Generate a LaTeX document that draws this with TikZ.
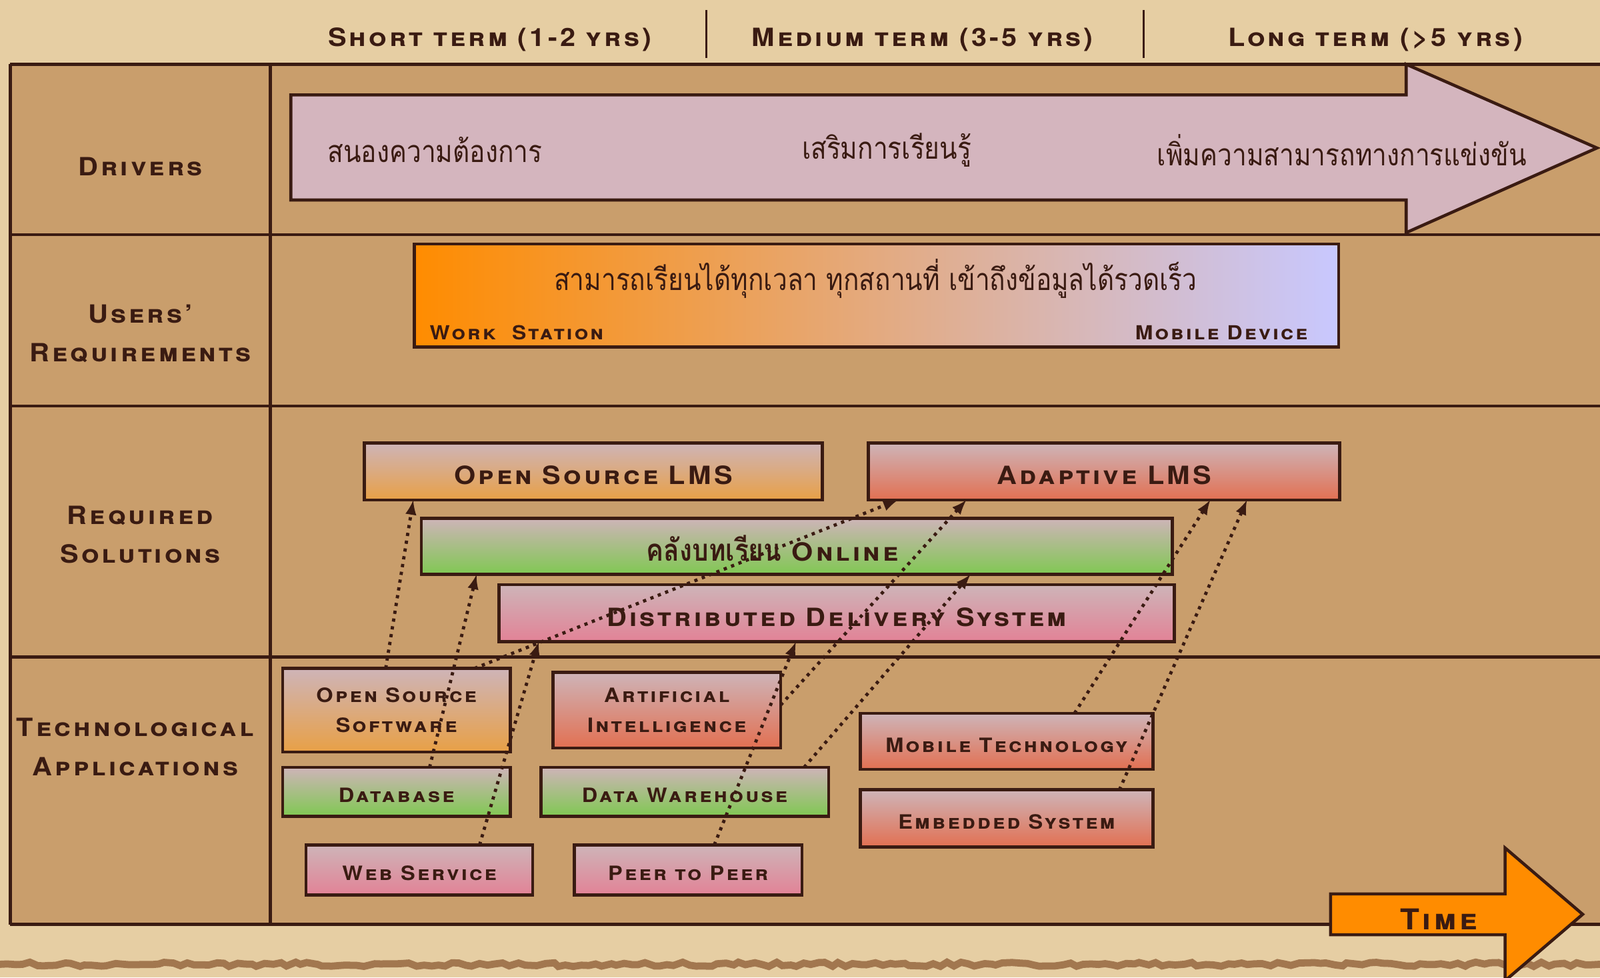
\documentclass[tikz,border=0pt]{standalone}
\usepackage{fontspec}
\newfontfamily\capfont{TeX Gyre Heros}[LetterSpace=11,FakeStretch=1.1]
\newfontfamily\thaifont[Script=Thai,FakeStretch=0.85]{Loma}
\usetikzlibrary{positioning}
\usetikzlibrary{arrows}
\usetikzlibrary{decorations.pathmorphing}

\definecolor{paper}{RGB}{230,206,163}
\definecolor{desk}{RGB}{201,158,108}
\definecolor{ink}{RGB}{58,27,18}
\definecolor{lilac}{RGB}{206,180,184}
\definecolor{drvpink}{RGB}{212,181,190}
\definecolor{boxorange}{RGB}{232,160,70}
\definecolor{boxred}{RGB}{226,112,82}
\definecolor{boxgreen}{RGB}{128,200,82}
\definecolor{boxpink}{RGB}{226,130,150}
\definecolor{timeorange}{RGB}{255,140,0}
\definecolor{peach}{RGB}{230,176,138}
\definecolor{mobblue}{RGB}{200,200,255}
\definecolor{torn}{RGB}{140,90,52}

\begin{document}
\begin{tikzpicture}[>=latex,font=\capfont\bfseries\scshape,text=ink,
	rowline/.style={draw=ink,line width=1.7pt},
	boxline/.style={draw=ink,line width=1.7pt,outer sep=0pt,inner sep=0pt},
	sol/.style={boxline,minimum height=1.12cm,text height=0.51cm,text depth=0cm,font=\capfont\bfseries\scshape\fontsize{14}{18}\selectfont},
	app/.style={boxline,align=center,font=\capfont\bfseries\scshape\fontsize{11}{16.5}\selectfont},
	appone/.style={app,text height=0.42cm,text depth=0cm},
	orangebox/.style={top color=lilac,bottom color=boxorange},
	redbox/.style={top color=lilac,bottom color=boxred},
	greenbox/.style={top color=lilac,bottom color=boxgreen},
	pinkbox/.style={top color=lilac,bottom color=boxpink},
	link/.style={->,ink,line width=1.8pt,dash pattern=on 1.8pt off 2.6pt},
	rowtxt/.style={align=center,font=\capfont\bfseries\scshape\fontsize{14}{21.6}\selectfont},
	thaitxt/.style={font=\thaifont\fontsize{17}{20}\selectfont}]
	\useasboundingbox (0,0) rectangle (31.36,-19.16);
	\fill[paper] (0,0) rectangle (31.36,-19.16);
	\draw[torn,opacity=.75,line width=4pt,decorate,decoration={random steps,segment length=4pt,amplitude=1.2pt}] (0,-18.9) -- (31.36,-18.9);
	\fill[desk] (0.2,-1.26) rectangle (31.36,-18.12);

	% time header
	\node [font=\capfont\bfseries\scshape\fontsize{14}{16}\selectfont] at (9.6,-0.78) (short_txt) {Short term (1-2 yrs)};
	\node [font=\capfont\bfseries\scshape\fontsize{14}{16}\selectfont] at (18.08,-0.78) (medium_txt) {Medium term (3-5 yrs)};
	\node [font=\capfont\bfseries\scshape\fontsize{14}{16}\selectfont] at (26.96,-0.78) (long_txt) {Long term (>5 yrs)};
	\draw[ink,line width=1.2pt] (13.84,-0.2) -- (13.84,-1.14);
	\draw[ink,line width=1.2pt] (22.42,-0.2) -- (22.42,-1.14);

	% table
	\foreach \y in {-1.26,-4.6,-7.96,-12.88,-18.12}
		\draw[rowline] (0.2,\y) -- (31.36,\y);
	\draw[rowline] (0.2,-1.26) -- (0.2,-18.12);
	\draw[rowline] (5.3,-1.26) -- (5.3,-18.12);

	\node [rowtxt] at (2.75,-3.26) (drv_txt) {Drivers};
	\node [rowtxt] at (2.75,-6.54) (usr_txt) {Users’\\Requirements};
	\node [rowtxt] at (2.75,-10.48) (sol_txt) {Required\\Solutions};
	\node [rowtxt] at (2.65,-14.64) (tech_txt) {Technological\\Applications};

	% drivers
	\draw[boxline,fill=drvpink] (5.7,-1.86) -- (27.56,-1.86) -- (27.56,-1.26) -- (31.3,-2.9) -- (27.56,-4.56) -- (27.56,-3.92) -- (5.7,-3.92) -- cycle;
	\node [thaitxt,anchor=west] at (6.3,-2.94) (drv_1) {สนองความต้องการ};
	\node [thaitxt] at (17.38,-2.94) (drv_2) {เสริมการเรียนรู้};
	\node [thaitxt] at (26.3,-2.94) (drv_3) {เพิ่มความสามารถทางการแข่งขัน};

	% users' requirements
	\node [boxline,minimum width=18.12cm,minimum height=2.02cm,left color=timeorange,middle color=peach,right color=mobblue] at (17.18,-5.79) (usr_box) {};
	\node [thaitxt] at (17.16,-5.46) (usr_need) {สามารถเรียนได้ทุกเวลา ทุกสถานที่ เข้าถึงข้อมูลได้รวดเร็ว};
	\node [anchor=west,font=\capfont\bfseries\scshape\fontsize{10.8}{12}\selectfont] at (8.3,-6.52) (usr_ws) {Work\ \ Station};
	\node [anchor=east,font=\capfont\bfseries\scshape\fontsize{10.8}{12}\selectfont] at (25.75,-6.52) (usr_md) {Mobile Device};

	% required solutions
	\node [sol,orangebox,minimum width=8.98cm] at (11.63,-9.24) (sol_oslms) {Open Source LMS};
	\node [sol,redbox,minimum width=9.24cm,right=0.9cm of sol_oslms] (sol_alms) {Adaptive LMS};
	\node [sol,greenbox,minimum width=14.72cm,minimum height=1.1cm,label={[xshift=-0.48cm,yshift=-0.04cm,font=\capfont\bfseries\scshape\fontsize{14}{18}\selectfont]center:{\thaifont\fontsize{17}{20}\selectfont คลังบทเรียน} Online}] at (15.62,-10.71) (sol_online) {};
	\node [sol,pinkbox,minimum width=13.24cm] at (16.4,-12.02) (sol_dds) {Distributed Delivery System};

	% technological applications
	\node [app,orangebox,minimum width=4.46cm,minimum height=1.64cm] at (7.77,-13.92) (app_oss) {Open Source\\Software};
	\node [appone,greenbox,minimum width=4.46cm,minimum height=0.96cm,below=0.3cm of app_oss] (app_db) {Database};
	\node [appone,pinkbox,minimum width=4.44cm,minimum height=0.98cm] at (8.22,-17.05) (app_ws) {Web Service};
	\node [app,redbox,minimum width=4.46cm,minimum height=1.48cm] at (13.07,-13.92) (app_ai) {Artificial\\Intelligence};
	\node [appone,greenbox,minimum width=5.64cm,minimum height=0.96cm] at (13.42,-15.52) (app_dw) {Data Warehouse};
	\node [appone,pinkbox,minimum width=4.46cm,minimum height=0.98cm] at (13.49,-17.05) (app_p2p) {Peer to Peer};
	\node [appone,redbox,minimum width=5.74cm,minimum height=1.1cm] at (19.73,-14.53) (app_mob) {Mobile Technology};
	\node [appone,redbox,minimum width=5.74cm,minimum height=1.12cm,below=0.4cm of app_mob] (app_emb) {Embedded System};

	% time
	\draw[boxline,fill=timeorange] (26.08,-17.52) -- (29.5,-17.52) -- (29.5,-16.62) -- (31.02,-17.92) -- (29.5,-19.22) -- (29.5,-18.32) -- (26.08,-18.32) -- cycle;
	\node [font=\capfont\bfseries\scshape\fontsize{16}{18}\selectfont] at (28.2,-18.02) (time_txt) {Time};

	% links
	\draw[link] ([xshift=-0.21cm]app_oss.north) -- ([xshift=-3.53cm]sol_oslms.south);
	\draw[link] ([xshift=0.65cm]app_db.north) -- ([xshift=-6.28cm]sol_online.south);
	\draw[link] ([xshift=1.18cm]app_ws.north) -- ([xshift=-5.84cm]sol_dds.south);
	\draw[link] ([xshift=1.53cm]app_oss.north) -- ([xshift=-4.04cm]sol_alms.south);
	\draw[link] ([yshift=0.1cm]app_ai.east) -- ([xshift=-2.7cm]sol_alms.south);
	\draw[link] ([xshift=0.51cm]app_p2p.north) -- ([xshift=-0.8cm]sol_dds.south);
	\draw[link] ([xshift=2.34cm]app_dw.north) -- ([xshift=3.4cm]sol_online.south);
	\draw[link] ([xshift=1.33cm]app_mob.north) -- ([xshift=2.08cm]sol_alms.south);
	\draw[link] ([xshift=2.21cm]app_emb.north) -- ([xshift=2.8cm]sol_alms.south);
\end{tikzpicture}
\end{document}
